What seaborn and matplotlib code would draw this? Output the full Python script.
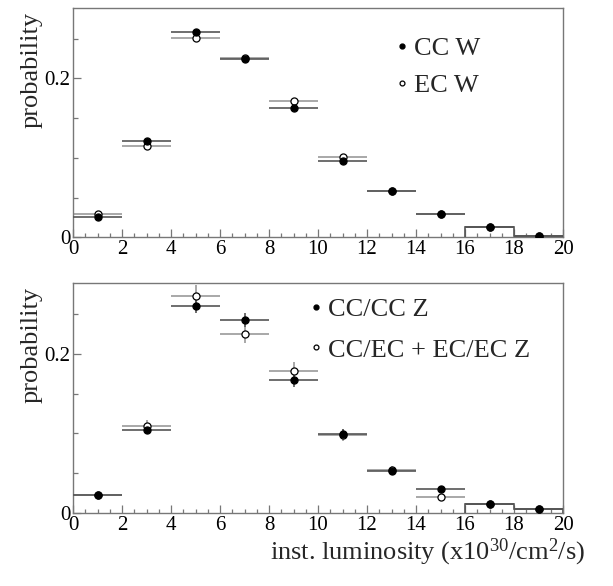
import numpy as np
import pandas as pd
import matplotlib
matplotlib.use("Agg")
import matplotlib.pyplot as plt
import seaborn as sns
from matplotlib.lines import Line2D
from matplotlib.ticker import MultipleLocator

# ---- data ----
bin_centers = [1, 3, 5, 7, 9, 11, 13, 15, 17, 19]
bin_edges = [0, 2, 4, 6, 8, 10, 12, 14, 16, 18, 20]

w_cc = [0.0255, 0.1207, 0.2586, 0.224, 0.163, 0.0965, 0.058, 0.0288, 0.0133, 0.0021]
w_ec = [0.0288, 0.1149, 0.2510, 0.225, 0.1717, 0.1007, 0.058, 0.0288, 0.0133, 0.0021]
w_cc_err = [0.001, 0.0015, 0.002, 0.002, 0.0015, 0.0012, 0.001, 0.0008, 0.0005, 0.0003]
w_ec_err = [0.001, 0.0015, 0.002, 0.002, 0.0015, 0.0012, 0.001, 0.0008, 0.0005, 0.0003]

z_cc = [0.023, 0.1048, 0.260, 0.242, 0.1665, 0.099, 0.0524, 0.031, 0.0113, 0.0056]
z_ec = [0.023, 0.109, 0.2725, 0.2247, 0.178, 0.098, 0.0545, 0.021, 0.0113, 0.0056]
z_cc_err = [0.002, 0.006, 0.009, 0.009, 0.008, 0.006, 0.004, 0.003, 0.002, 0.0015]
z_ec_err = [0.002, 0.008, 0.013, 0.012, 0.011, 0.008, 0.005, 0.003, 0.002, 0.0015]

top_labels = ["CC W", "EC W"]
bot_labels = ["CC/CC Z", "CC/EC + EC/EC Z"]
xlabel = r"inst. luminosity (x10$^{30}$/cm$^{2}$/s)"
ylabel = "probability"

# ---- style ----
sns.set_theme(style="ticks")
plt.rcParams["font.family"] = ["Liberation Serif", "DejaVu Serif"]
plt.rcParams["mathtext.fontset"] = "custom"
plt.rcParams["mathtext.rm"] = "Liberation Serif"
plt.rcParams["mathtext.it"] = "Liberation Serif:italic"

fig = plt.figure(figsize=(6.13, 5.86), dpi=100)
ax_top = fig.add_axes([73 / 613, 1 - 237.3 / 586, 490 / 613, 229 / 586])
ax_bot = fig.add_axes([73 / 613, 1 - 513.3 / 586, 490 / 613, 230 / 586])

frame_col = "#777777"
cc_line = "#555555"
ec_line = "#999999"


def draw_panel(ax, cc, ec, cc_err, ec_err, labels, leg_anchor, spacing):
    half = np.diff(bin_edges) / 2.0
    ax.errorbar(bin_centers, ec, xerr=half, yerr=ec_err, fmt="none",
                ecolor=ec_line, elinewidth=1.2, capsize=0, zorder=2)
    ax.errorbar(bin_centers, cc, xerr=half, yerr=cc_err, fmt="none",
                ecolor=cc_line, elinewidth=1.2, capsize=0, zorder=3)
    ax.stairs(cc[8:], bin_edges[8:], baseline=0, color=cc_line, lw=1.2, zorder=3)
    df_ec = pd.DataFrame({"x": bin_centers, "y": ec})
    df_cc = pd.DataFrame({"x": bin_centers, "y": cc})
    sns.scatterplot(data=df_ec, x="x", y="y", ax=ax, s=26, color="white",
                    edgecolor="black", linewidth=0.9, zorder=4, legend=False)
    sns.scatterplot(data=df_cc, x="x", y="y", ax=ax, s=26, color="black",
                    edgecolor="black", linewidth=0.9, zorder=5, legend=False)

    ax.set_xlim(0, 20)
    ax.set_ylim(0, 0.288)
    ax.xaxis.set_major_locator(MultipleLocator(2))
    ax.xaxis.set_minor_locator(MultipleLocator(0.5))
    ax.yaxis.set_major_locator(MultipleLocator(0.2))
    ax.yaxis.set_minor_locator(MultipleLocator(0.05))
    ax.yaxis.set_major_formatter(matplotlib.ticker.FuncFormatter(
        lambda v, p: "0" if abs(v) < 1e-9 else f"{v:.1f}"))
    ax.tick_params(axis="both", which="both", direction="in", colors=frame_col,
                   labelcolor="black", labelsize=15, top=False, right=False)
    ax.tick_params(axis="x", which="major", length=5.5, width=0.9, pad=2)
    ax.tick_params(axis="x", which="minor", length=3, width=0.9)
    ax.tick_params(axis="y", which="major", length=6, width=0.9, pad=2)
    ax.tick_params(axis="y", which="minor", length=3.5, width=0.9)
    for sp in ax.spines.values():
        sp.set_color(frame_col)
        sp.set_linewidth(1.0)
    ax.set_xlabel("")
    ax.set_ylabel(ylabel, fontsize=19, loc="top")
    ax.yaxis.set_label_coords(-0.062, 0.985)

    handles = [
        Line2D([], [], ls="none", marker="o", ms=3.5, mfc="black", mec="black"),
        Line2D([], [], ls="none", marker="o", ms=3.5, mfc="white", mec="black", mew=0.9),
    ]
    ax.legend(handles, labels, loc="upper left", bbox_to_anchor=leg_anchor,
              frameon=False, fontsize=19, handlelength=0.4, handletextpad=0.25,
              labelspacing=spacing, borderpad=0, borderaxespad=0)


draw_panel(ax_top, w_cc, w_ec, w_cc_err, w_ec_err, top_labels, (0.661, 0.875), 0.5)
draw_panel(ax_bot, z_cc, z_ec, z_cc_err, z_ec_err, bot_labels, (0.486, 0.938), 0.65)

fig.text(585 / 613, 1 - 552 / 586, xlabel, ha="right", va="center", fontsize=19)

fig.savefig("out.png", dpi=100)
